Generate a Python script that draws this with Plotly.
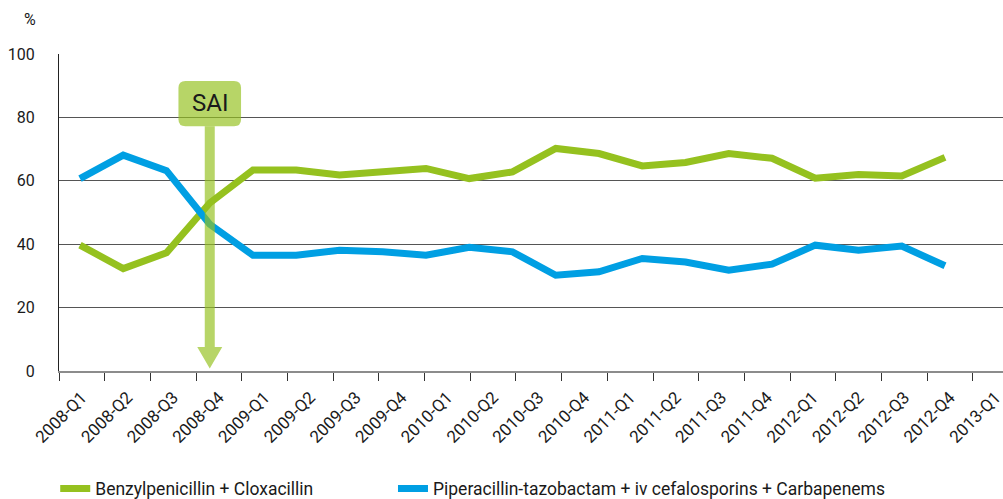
import plotly.graph_objects as go

# Quarterly categories shown on the time axis
quarters = [
    "2008-Q1", "2008-Q2", "2008-Q3", "2008-Q4",
    "2009-Q1", "2009-Q2", "2009-Q3", "2009-Q4",
    "2010-Q1", "2010-Q2", "2010-Q3", "2010-Q4",
    "2011-Q1", "2011-Q2", "2011-Q3", "2011-Q4",
    "2012-Q1", "2012-Q2", "2012-Q3", "2012-Q4",
    "2013-Q1",
]

# Share of use (%) per quarter
benzyl_clox = [39.7, 32.3, 37.3, 53.0, 63.4, 63.4, 61.8, 63.1, 63.9, 60.7, 62.8,
               70.2, 68.6, 64.7, 65.8, 68.6, 67.1, 60.8, 62.0, 61.5, 67.4]
pip_tazo_ceph_carb = [60.7, 68.1, 63.2, 46.3, 36.5, 36.5, 38.1, 37.6, 36.5, 39.0, 37.6,
                      30.2, 31.3, 35.5, 34.4, 31.8, 33.7, 39.7, 38.1, 39.4, 33.2]

series_names = [
    "Benzylpenicillin + Cloxacillin",
    "Piperacillin-tazobactam + iv cefalosporins + Carbapenems",
]
y_ticks = [0, 20, 40, 60, 80, 100]

# Intervention marker
sai_label = "SAI"
sai_quarter = "2008-Q4"

GREEN = "#95c11f"
BLUE = "#009fe3"
ARROW = "rgba(149,193,31,0.68)"
FONT = "Roboto"
TXT = "#1a1a1a"

fig = go.Figure()
# Empty trace that anchors the labelled quarter axis
fig.add_trace(go.Scatter(x=quarters, y=[None] * len(quarters), mode="lines",
                         showlegend=False, hoverinfo="skip"))
fig.add_trace(go.Scatter(x=quarters, y=benzyl_clox, name=series_names[0], mode="lines",
                         line=dict(color=GREEN, width=7), xaxis="x2", legend="legend"))
fig.add_trace(go.Scatter(x=quarters, y=pip_tazo_ceph_carb, name=series_names[1], mode="lines",
                         line=dict(color=BLUE, width=7), xaxis="x2", legend="legend2"))

# Arrow (shaft + head) and rounded label box, sized in pixels, anchored at the marker quarter
shaft_w, head_w = 5, 12.5
tip, head_top, shaft_top = 2.4, 24, 244.8
box_top, half_box, r = 290, 31.3, 7
arrow_path = (f"M 0,{tip} L {head_w},{head_top} L {shaft_w},{head_top} L {shaft_w},{shaft_top} "
              f"L {-shaft_w},{shaft_top} L {-shaft_w},{head_top} L {-head_w},{head_top} Z")
box_path = (f"M {-half_box + r},{shaft_top} L {half_box - r},{shaft_top} "
            f"Q {half_box},{shaft_top} {half_box},{shaft_top + r} "
            f"L {half_box},{box_top - r} Q {half_box},{box_top} {half_box - r},{box_top} "
            f"L {-half_box + r},{box_top} Q {-half_box},{box_top} {-half_box},{box_top - r} "
            f"L {-half_box},{shaft_top + r} Q {-half_box},{shaft_top} {-half_box + r},{shaft_top} Z")
for p in (arrow_path, box_path):
    fig.add_shape(type="path", path=p, xref="x2", yref="y",
                  xsizemode="pixel", ysizemode="pixel",
                  xanchor=sai_quarter, yanchor=0,
                  fillcolor=ARROW, line=dict(width=0), layer="above")

fig.add_annotation(x=sai_quarter, y=84.5, xref="x2", yref="y", text=sai_label,
                   showarrow=False, font=dict(family=FONT, size=24, color=TXT))
fig.add_annotation(x=-0.039, y=1.110, xref="paper", yref="paper", text="%",
                   xanchor="left", yanchor="middle", showarrow=False,
                   font=dict(family=FONT, size=16, color=TXT))

legend_common = dict(orientation="h", xanchor="left", y=-0.371, yanchor="middle",
                     font=dict(family=FONT, size=17.5, color=TXT), bgcolor="rgba(0,0,0,0)")

fig.update_layout(
    width=1003, height=499,
    margin=dict(l=59, r=0, t=54, b=128, autoexpand=False),
    paper_bgcolor="white", plot_bgcolor="white",
    font=dict(family=FONT, size=16, color=TXT),
    xaxis=dict(
        type="category", categoryorder="array", categoryarray=quarters,
        range=[-0.5, 20.157], tickson="boundaries", ticks="outside", ticklen=8,
        tickcolor="#333333", tickwidth=1, tickangle=-45, ticklabelstandoff=8,
        tickfont=dict(family=FONT, size=17, color=TXT),
        showline=True, linecolor="#8c8c8c", linewidth=1.5, showgrid=False,
        fixedrange=True,
    ),
    xaxis2=dict(
        type="category", categoryorder="array", categoryarray=quarters,
        overlaying="x", range=[-0.4855, 21.341], visible=False, fixedrange=True,
    ),
    yaxis=dict(
        range=[0, 100], tickvals=y_ticks, showgrid=True, gridcolor="#555555", gridwidth=1,
        zeroline=False, showline=True, linecolor="#222222", linewidth=1,
        ticks="", ticklabelstandoff=20,
        tickfont=dict(family=FONT, size=16, color=TXT), fixedrange=True,
    ),
    legend=dict(x=-0.004, **legend_common),
    legend2=dict(x=0.3538, **legend_common),
    showlegend=True,
)

fig.write_html("out.html")
